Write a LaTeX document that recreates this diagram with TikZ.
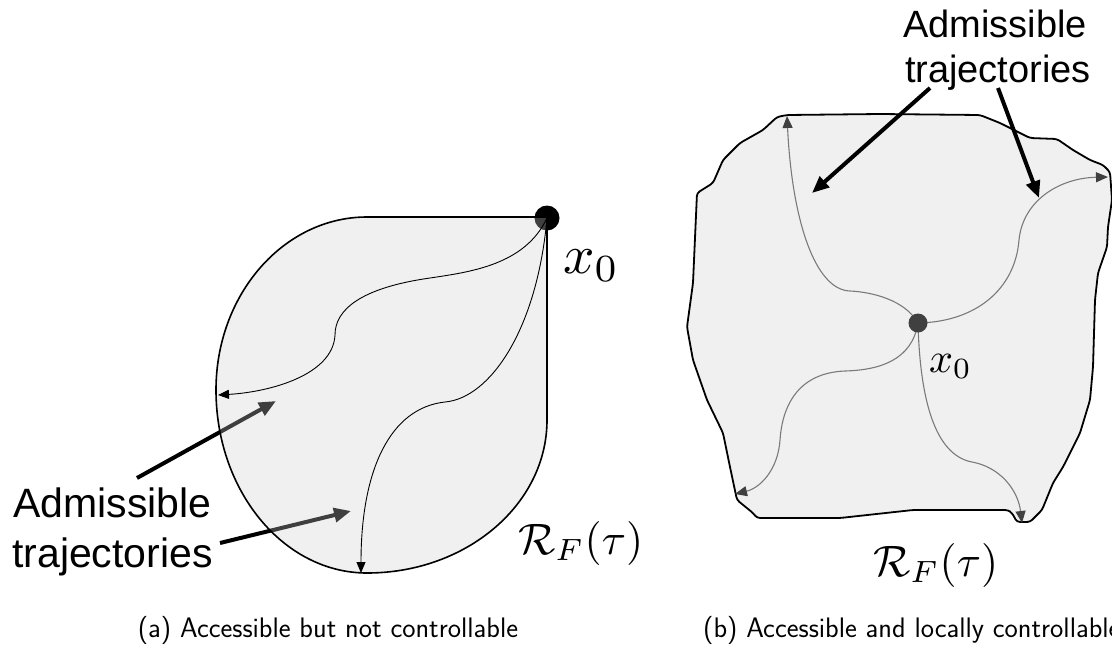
\documentclass[tikz,border=0pt]{standalone}
\usepackage{fontspec}
\setmainfont{Liberation Sans}
\usetikzlibrary{arrows.meta}
\definecolor{shfill}{gray}{0.808}
\definecolor{regfill}{HTML}{F0F0F0}
\definecolor{dotgray}{HTML}{404040}
\definecolor{trajgray}{HTML}{7A7A7A}
\begin{document}
\begin{tikzpicture}[x=1pt,y=-1pt,
  annot/.style={line width=4pt, -{Triangle[length=17pt,width=14pt]}},
  ltraj/.style={line width=0.9pt, black, -{Triangle[length=11pt,width=9pt]}},
  rtraj/.style={line width=1.1pt, trajgray, -{Triangle[length=12pt,width=10pt,color=dotgray]}},
  outline/.style={line width=1.6pt, black},
  txt/.style={inner sep=0pt, font=\fontsize{41}{49}\selectfont},
  rtxt/.style={inner sep=0pt, font=\fontsize{38}{45}\selectfont},
  captxt/.style={inner sep=0pt, font=\sffamily\fontsize{28.2}{34}\selectfont},
  mlbl/.style={inner sep=0pt, anchor=base west, font=\normalsize}
]
\useasboundingbox (0,0) rectangle (1112,646);

% ---------------- left panel ----------------
\node[circle, fill=black, minimum size=25pt, inner sep=0pt] (xa) at (547,218) {};
\node[txt, anchor=base west] (ladm) at (13,517) {Admissible};
\node[txt, anchor=base west] (ltraj) at (12,567) {trajectories};
\coordinate (a1s) at (137,478);
\coordinate (a1e) at (276,401);
\coordinate (a2s) at (220,543);
\coordinate (a2e) at (351,511);
\draw[annot] (a1s) -- (a1e);
\draw[annot] (a2s) -- (a2e);

\fill[shfill, fill opacity=0.31]
  (367,217) -- (547,217) -- (547,420)
  arc[start angle=0, end angle=90, x radius=180, y radius=153]
  arc[start angle=90, end angle=180, x radius=151, y radius=183]
  arc[start angle=180, end angle=270, x radius=151, y radius=173] -- cycle;
\draw[outline]
  (367,217) -- (547,217) -- (547,420)
  arc[start angle=0, end angle=90, x radius=180, y radius=153]
  arc[start angle=90, end angle=180, x radius=151, y radius=183]
  arc[start angle=180, end angle=270, x radius=151, y radius=173] -- cycle;

\coordinate (la1) at (218,395);
\coordinate (la2) at (361,573);
\draw[ltraj] (xa.center) .. controls (525,265) and (470,272) .. (430,278)
  .. controls (360,288) and (335,310) .. (335,335)
  .. controls (333,375) and (270,392) .. (la1);
\draw[ltraj] (xa.center) .. controls (537,330) and (490,398) .. (445,402)
  .. controls (390,408) and (361,470) .. (la2);

\node[mlbl] (lx0) at (563,273) {\scalebox{5.5}{$x_0$}};
\node[mlbl] (lrf) at (518,554) {\scalebox{4.4}{$\mathcal{R}_F(\tau)$}};
\node[captxt, anchor=base] (capa) at (328,637) {(a) Accessible but not controllable};

% ---------------- right panel ----------------
\fill[regfill] (777,117) -- (787,115) -- (880,114) -- (980,115) -- (1000,123) -- (1030,138)
  -- (1057,139) -- (1073,150) -- (1090,160) -- (1103,165) -- (1110,172) -- (1112,200)
  -- (1108,227) -- (1107,247) -- (1098,273) -- (1095,300) -- (1093,367) -- (1090,400)
  -- (1080,433) -- (1063,467) -- (1053,483) -- (1042,510) -- (1030,522) -- (1017,522)
  -- (1012,513) -- (1008,510) -- (913,510) -- (840,518) -- (757,518) -- (753,513)
  -- (737,500) -- (730,467) -- (723,433) -- (707,400) -- (693,360) -- (687,327)
  -- (693,283) -- (697,193) -- (713,183) -- (723,160) -- (740,143) -- (763,130) -- cycle;
\draw[outline, line width=1.8pt, rounded corners=3pt] (777,117) -- (787,115) -- (880,114) -- (980,115) -- (1000,123) -- (1030,138)
  -- (1057,139) -- (1073,150) -- (1090,160) -- (1103,165) -- (1110,172) -- (1112,200)
  -- (1108,227) -- (1107,247) -- (1098,273) -- (1095,300) -- (1093,367) -- (1090,400)
  -- (1080,433) -- (1063,467) -- (1053,483) -- (1042,510) -- (1030,522) -- (1017,522)
  -- (1012,513) -- (1008,510) -- (913,510) -- (840,518) -- (757,518) -- (753,513)
  -- (737,500) -- (730,467) -- (723,433) -- (707,400) -- (693,360) -- (687,327)
  -- (693,283) -- (697,193) -- (713,183) -- (723,160) -- (740,143) -- (763,130) -- cycle;

\coordinate (xb) at (918,323);
\coordinate (rb1) at (787,116);
\coordinate (rb2) at (1108,177);
\coordinate (rb3) at (735,494);
\coordinate (rb4) at (1022,523);
\draw[rtraj] (xb) .. controls (905,300) and (872,292) .. (850,291)
  .. controls (815,290) and (792,220) .. (rb1);
\draw[rtraj] (xb) .. controls (975,322) and (1015,290) .. (1019,240)
  .. controls (1023,200) and (1060,178) .. (rb2);
\draw[rtraj] (xb) .. controls (912,360) and (880,370) .. (845,371)
  .. controls (795,373) and (782,410) .. (780,440)
  .. controls (778,470) and (760,488) .. (rb3);
\draw[rtraj] (xb) .. controls (920,400) and (935,455) .. (972,462)
  .. controls (1000,467) and (1018,490) .. (rb4);
\node[circle, fill=dotgray, minimum size=19pt, inner sep=0pt] (xbdot) at (xb) {};

\node[rtxt, anchor=base] (radm) at (995,37) {Admissible};
\node[rtxt, anchor=base] (rtrj) at (998,82) {trajectories};
\coordinate (b1s) at (930,88);
\coordinate (b1e) at (812,193);
\coordinate (b2s) at (998,88);
\coordinate (b2e) at (1039,198);
\draw[annot] (b1s) -- (b1e);
\draw[annot] (b2s) -- (b2e);

\node[mlbl] (rx0) at (929,372) {\scalebox{4.2}{$x_0$}};
\node[mlbl] (rrf) at (873,576) {\scalebox{4.4}{$\mathcal{R}_F(\tau)$}};
\node[captxt, anchor=base west] (capb) at (703,637) {(b) Accessible and locally controllable};
\end{tikzpicture}
\end{document}
